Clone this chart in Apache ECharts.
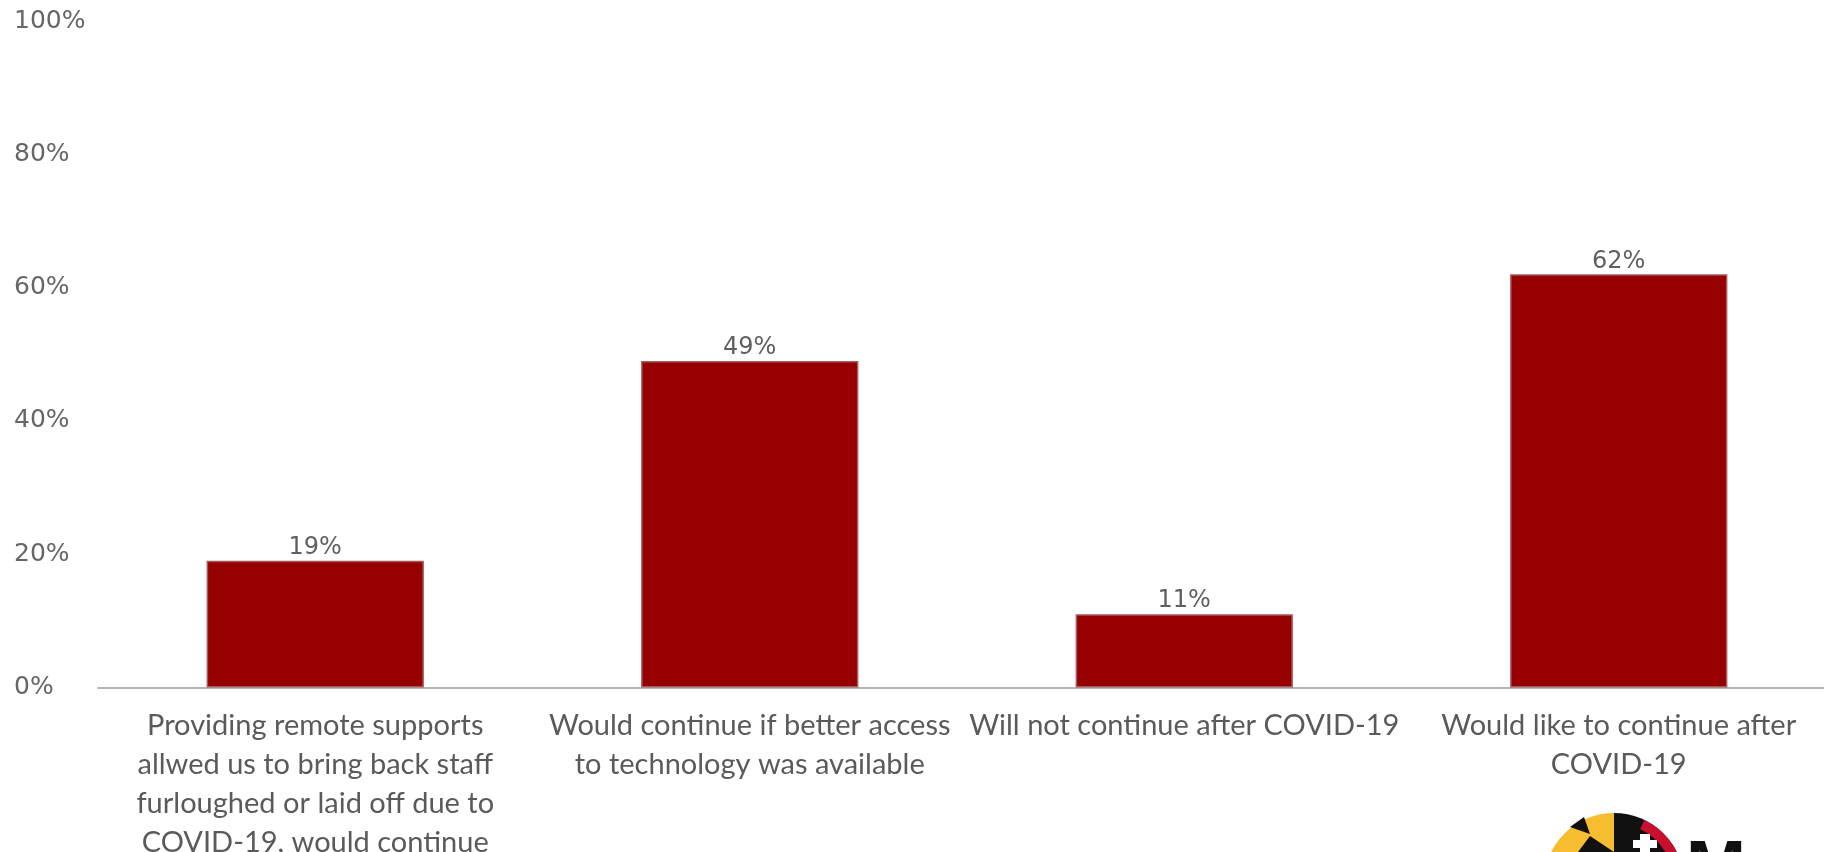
<!DOCTYPE html>
<html>
<head>
<meta charset="utf-8">
<title>Remote supports after COVID-19</title>
<script src="https://cdn.jsdelivr.net/npm/echarts@6/dist/echarts.min.js"></script>
<style>
  html, body { margin: 0; padding: 0; background: #ffffff; }
  #chart { width: 1824px; height: 852px; }
</style>
</head>
<body>
<div id="chart"></div>
<script>
// Survey answers about remote supports (share of respondents, %)
const categories = [
  'Providing remote supports\nallwed us to bring back staff\nfurloughed or laid off due to\nCOVID-19, would continue',
  'Would continue if better access\nto technology was available',
  'Will not continue after COVID-19',
  'Would like to continue after\nCOVID-19'
];
const shares = [19, 49, 11, 62];

// Value axis range and step (percent)
const yMin = 0;
const yMax = 100;
const yStep = 20;

const chart = echarts.init(document.getElementById('chart'), null, { renderer: 'canvas' });

// Maryland flag emblem in the lower right corner, partly cut off by the page edge
const cx = 1614, cy = 883, r = 70;
const emblem = [
  { type: 'sector', shape: { cx, cy, r, startAngle: Math.PI, endAngle: Math.PI * 1.5 },
    style: { fill: '#f5bd2f' } },
  { type: 'polygon', shape: { points: [[1570, 827], [1584, 817], [1590, 834]] },
    style: { fill: '#111111' } },
  { type: 'polygon', shape: { points: [[1578, 852], [1590, 836], [1614, 852]] },
    style: { fill: '#111111' } },
  { type: 'sector', shape: { cx, cy, r, startAngle: Math.PI * 1.5, endAngle: Math.PI * 2 },
    style: { fill: '#111111' } },
  { type: 'sector', shape: { cx, cy, r0: 60, r, startAngle: Math.PI * 1.5 + 0.45, endAngle: Math.PI * 2 },
    style: { fill: '#c8102e' } },
  { type: 'rect', shape: { x: 1640, y: 834, width: 10, height: 18 }, style: { fill: '#ffffff' } },
  { type: 'rect', shape: { x: 1633, y: 840, width: 24, height: 8 }, style: { fill: '#ffffff' } },
  { type: 'text', x: 1686, y: 835,
    style: { text: 'M', fill: '#111111', font: 'bold 72px "Liberation Sans", Arial, sans-serif',
             textAlign: 'left', textVerticalAlign: 'top' } }
];

chart.setOption({
  animation: false,
  backgroundColor: '#ffffff',
  grid: {
    left: 98, top: 21, width: 1738, height: 666.5,
    containLabel: false,
    outerBoundsMode: 'none'
  },
  xAxis: {
    type: 'category',
    data: categories,
    axisLine: { show: true, lineStyle: { color: '#b3b3b3', width: 2 } },
    axisTick: { show: false },
    axisLabel: {
      interval: 0,
      margin: 19,
      color: '#5a5a5a',
      fontFamily: 'Lato, "Open Sans", sans-serif',
      fontSize: 29,
      lineHeight: 39,
      align: 'center'
    },
    splitLine: { show: false }
  },
  yAxis: {
    type: 'value',
    min: yMin,
    max: yMax,
    interval: yStep,
    axisLine: { show: false },
    axisTick: { show: false },
    splitLine: { show: false },
    axisLabel: {
      formatter: '{value}%',
      align: 'left',
      margin: 84,
      color: '#666666',
      fontFamily: '"DejaVu Sans", sans-serif',
      fontSize: 25
    }
  },
  series: [{
    type: 'bar',
    data: shares,
    barCategoryGap: '50%',
    itemStyle: { color: '#960000', borderColor: '#a45a5a', borderWidth: 1.5 },
    label: {
      show: true,
      position: 'top',
      distance: 1,
      formatter: '{c}%',
      color: '#5f5f5f',
      fontFamily: '"DejaVu Sans", sans-serif',
      fontSize: 24
    }
  }],
  graphic: emblem
});
</script>
</body>
</html>
